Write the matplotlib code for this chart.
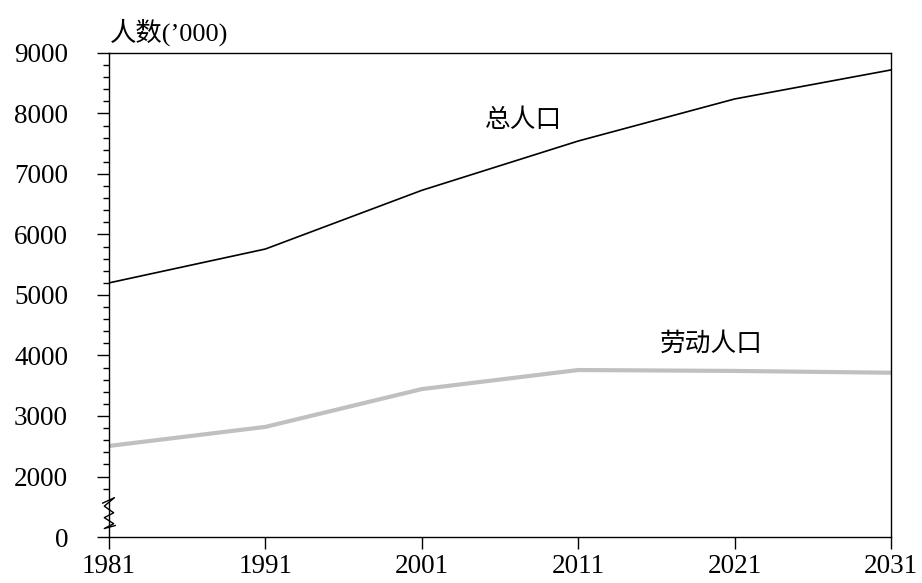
import matplotlib
matplotlib.use('Agg')
import matplotlib.pyplot as plt
from matplotlib.transforms import blended_transform_factory
import numpy as np

plt.rcParams['font.family'] = ['Liberation Serif', 'Noto Sans CJK SC']

years = [1981, 1991, 2001, 2011, 2021, 2031]
total_pop = [5200, 5760, 6730, 7545, 8240, 8720]
labour_pop = [2505, 2820, 3445, 3760, 3745, 3715]

ytick_vals = [1000, 2000, 3000, 4000, 5000, 6000, 7000, 8000, 9000]
ytick_labels = ['0', '2000', '3000', '4000', '5000', '6000', '7000', '8000', '9000']

fig = plt.figure(figsize=(9.22, 5.83), dpi=100)
ax = fig.add_axes([0.1182, 0.0789, 0.8482, 0.8302])

ax.plot(years, total_pop, color='black', lw=1.2)
ax.plot(years, labour_pop, color='#c0c0c0', lw=3)

ax.set_xlim(1981, 2031)
ax.set_ylim(1000, 9000)
ax.set_xticks(years)
ax.set_yticks(ytick_vals)
ax.set_yticklabels(ytick_labels)
ax.set_yticks(np.arange(1800, 9000, 200), minor=True)
ax.tick_params(axis='both', which='major', direction='out', length=8.5,
               width=1, labelsize=19.5, colors='black')
ax.tick_params(axis='y', which='minor', direction='out', length=4.3, width=1)
ax.tick_params(axis='x', pad=4)
ax.tick_params(axis='y', which='major', pad=21)
for s in ax.spines.values():
    s.set_linewidth(1)

# axis break marker
tr = blended_transform_factory(ax.transAxes, ax.transData)
zx = [-0.008, 0.007, -0.006, 0.006, -0.006, 0.006, -0.006, 0.008]
zy = [1560, 1650, 1510, 1400, 1320, 1220, 1140, 1190]
ax.plot(zx, zy, color='black', lw=1, transform=tr, clip_on=False)

ax.text(2007.5, 7900, '总人口', fontsize=18.5, family='Noto Sans CJK SC',
        ha='center', va='center')
ax.text(2019.5, 4200, '劳动人口', fontsize=18.5, family='Noto Sans CJK SC',
        ha='center', va='center')
fig.text(0.119, 0.945, "人数(\u2019000)", fontsize=19, ha='left', va='center')

fig.savefig('out.png', dpi=100)
